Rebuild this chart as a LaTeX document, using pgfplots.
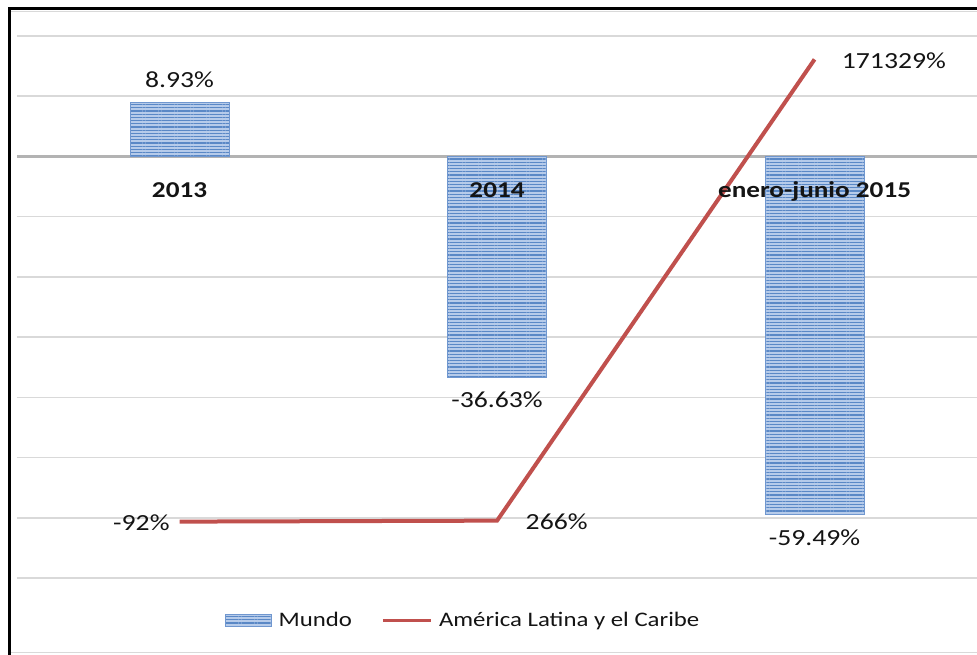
\documentclass[border=0pt]{standalone}
\usepackage{fontspec}
\setmainfont{Carlito}[FakeStretch=1.2]
\usepackage{pgfplots}
\pgfplotsset{compat=1.18}
\usetikzlibrary{patterns.meta}
\definecolor{barlight}{HTML}{B6CBEA}
\definecolor{barstripe}{HTML}{5A88C6}
\definecolor{baredge}{HTML}{7097CF}
\definecolor{linered}{HTML}{C0504D}
\definecolor{gridc}{HTML}{D9D9D9}
\definecolor{zeroc}{HTML}{B3B3B3}
\definecolor{txt}{HTML}{141414}
\pgfplotsset{
  common/.style={at={(12.75pt,57.75pt)}, anchor=south west,
    scale only axis, width=722pt, height=406.5pt, xmin=-0.512, xmax=2.52},
}
\begin{document}
\begin{tikzpicture}
\begin{axis}[
  common, ymin=-70, ymax=20,
  axis x line=middle, axis y line=left,
  x axis line style={-, draw=zeroc, line width=1.6pt},
  y axis line style={draw=none},
  xtick={0,1,2}, xticklabels={}, xtick style={draw=none},
  ytick={-70,-60,...,20}, yticklabels={}, ytick style={draw=none},
  ymajorgrids, grid style={draw=gridc, line width=1.1pt},
]
\addplot[ybar, bar width=74pt, fill=barlight, draw=baredge, line width=0.5pt,
  postaction={pattern={Lines[angle=0,distance=2.4pt,line width=0.9pt]}, pattern color=barstripe},
  point meta=explicit symbolic,
  visualization depends on={value \thisrow{anc}\as\banc},
  nodes near coords={\pgfplotspointmeta\%},
  every node near coord/.append style={anchor=\banc, font=\fontsize{17.3}{20}\selectfont, text=txt, inner xsep=0pt, inner ysep=11pt}]
  table[x=x, y=y, meta=lab]{
x y lab anc
0 8.93 8.93 south
1 -36.63 -36.63 north
2 -59.49 -59.49 north
};
\end{axis}
\begin{axis}[
  common, ymin=-21000, ymax=180000,
  hide x axis, hide y axis,
  legend style={at={(0.464,-0.079)}, anchor=center, draw=none, fill=none,
    legend columns=2, font=\fontsize{15.5}{18}\selectfont, text=txt,
    /tikz/every odd column/.append style={column sep=3pt},
    /tikz/every even column/.append style={column sep=20pt}},
  legend cell align=left,
]
\addlegendimage{legend image code/.code={\draw[fill=barlight, draw=baredge, line width=0.5pt,
   postaction={pattern={Lines[angle=0,distance=2.4pt,line width=0.9pt]}, pattern color=barstripe}]
   (0pt,-4.5pt) rectangle (34.5pt,4.5pt);}}
\addlegendentry{Mundo}
\addplot[color=linered, line width=3pt, mark=none,
  legend image code/.code={\draw[linered, line width=2.2pt] (0pt,0pt) -- (36pt,0pt);},
  point meta=explicit symbolic,
  visualization depends on={value \thisrow{anc}\as\myanc},
  visualization depends on={\thisrow{dx}\as\mydx},
  nodes near coords={\pgfplotspointmeta\%},
  every node near coord/.append style={anchor=\myanc, xshift=\mydx pt, yshift=-1pt,
    font=\fontsize{17.3}{20}\selectfont, text=txt, inner sep=0pt}]
  table[x=x, y=y, meta=lab]{
x y lab anc dx
0 -92 -92 east -6
1 266 266 west 20
2 171329 171329 west 19
};
\addlegendentry{América Latina y el Caribe}
\end{axis}
\begin{axis}[
  common, ymin=-70, ymax=20,
  axis x line=middle, axis y line=none,
  x axis line style={draw=none},
  xtick={0,1,2}, xticklabels={2013,2014,enero-junio 2015},
  xtick style={draw=none},
  xticklabel style={anchor=base, yshift=-28.9pt, font=\fontsize{17}{20}\selectfont\bfseries, text=txt},
  ytick=\empty,
]
\end{axis}
\draw[black, line width=2pt] (7.3pt,0pt) -- (7.3pt,485.9pt);
\draw[black, line width=2pt] (6.3pt,484.9pt) -- (733pt,484.9pt);
\draw[gray!30, line width=0.75pt] (8.3pt,482.5pt) -- (733pt,482.5pt);
\draw[gray!30, line width=0.75pt] (8.3pt,1.5pt) -- (733pt,1.5pt);
\pgfresetboundingbox
\useasboundingbox (0,0) rectangle (732.75pt,491.25pt);
\end{tikzpicture}
\end{document}
